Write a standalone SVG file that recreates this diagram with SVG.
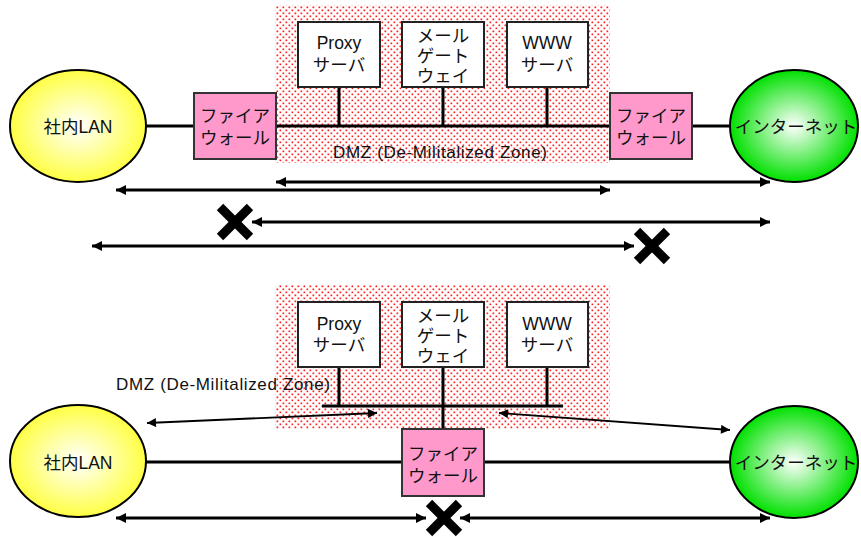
<svg xmlns="http://www.w3.org/2000/svg" width="861" height="537" viewBox="0 0 861 537">
<defs>
<pattern id="dots" width="6" height="6" patternUnits="userSpaceOnUse">
<rect x="0.5" y="0.5" width="1.7" height="1.7" fill="#FF2020"/>
<rect x="3.5" y="3.5" width="1.7" height="1.7" fill="#FF2020"/>
</pattern>
<radialGradient id="gy" cx="50%" cy="50%" r="50%">
<stop offset="0" stop-color="#FFFFFF"/>
<stop offset="1" stop-color="#FFFF44"/>
</radialGradient>
<radialGradient id="gg" cx="50%" cy="50%" r="50%">
<stop offset="0" stop-color="#FFFFFF"/>
<stop offset="1" stop-color="#00E000"/>
</radialGradient>
<marker id="ah" viewBox="0 0 10 10" refX="10" refY="5" markerWidth="10" markerHeight="10" markerUnits="userSpaceOnUse" orient="auto-start-reverse">
<path d="M0,0 L10,5 L0,10 Z" fill="#000"/>
</marker>
<marker id="ahs" viewBox="0 0 10 10" refX="10" refY="5" markerWidth="10" markerHeight="9" markerUnits="userSpaceOnUse" orient="auto-start-reverse">
<path d="M0,0 L10,5 L0,10 Z" fill="#000"/>
</marker>
</defs>
<style>
text{font-family:"Liberation Sans","Noto Sans CJK JP",sans-serif;fill:#111;}
.t{font-size:17.5px;text-anchor:middle;}
.d{font-size:17px;}
.box{fill:#FFFFFF;stroke:#222;stroke-width:2;}
.fw{fill:#FF99CC;stroke:#333;stroke-width:2;}
.ln{stroke:#000;stroke-width:3;fill:none;}
.ar{stroke:#000;stroke-width:3;fill:none;marker-start:url(#ah);marker-end:url(#ah);}
.thin{stroke:#000;stroke-width:1.8;fill:none;marker-start:url(#ahs);marker-end:url(#ahs);}
.x{stroke:#000;stroke-width:9;}
.dmz{fill:url(#dots);}
</style>

<rect class="dmz" x="275" y="5" width="335" height="158" rx="3"/>
<rect class="dmz" x="275" y="285" width="335" height="144" rx="3"/>

<g id="connectors">
<line class="ln" x1="146" y1="126" x2="194" y2="126"/>
<line class="ln" x1="276" y1="126" x2="610" y2="126"/>
<line class="ln" x1="692" y1="126" x2="730" y2="126"/>
<line class="ln" x1="339" y1="87" x2="339" y2="126"/>
<line class="ln" x1="443" y1="87" x2="443" y2="126"/>
<line class="ln" x1="547" y1="87" x2="547" y2="126"/>
<line class="ar" x1="276" y1="182" x2="770" y2="182"/>
<line class="ar" x1="116" y1="190" x2="610" y2="190"/>
<line class="ar" x1="252" y1="222" x2="770" y2="222"/>
<line class="ar" x1="92" y1="246" x2="634" y2="246"/>
<line class="ln" x1="322" y1="406" x2="563" y2="406"/>
<line class="ln" x1="339" y1="367" x2="339" y2="406"/>
<line class="ln" x1="547" y1="367" x2="547" y2="406"/>
<line class="ln" x1="443" y1="367" x2="443" y2="429"/>
<line class="ln" x1="146" y1="462" x2="402" y2="462"/>
<line class="ln" x1="484" y1="462" x2="730" y2="462"/>
<line class="thin" x1="147" y1="423" x2="377" y2="413"/>
<line class="thin" x1="499" y1="413" x2="730" y2="430"/>
<line class="ar" x1="116" y1="518" x2="426" y2="518"/>
<line class="ar" x1="460" y1="518" x2="770" y2="518"/>
<line class="x" x1="220" y1="207" x2="250" y2="237"/>
<line class="x" x1="250" y1="207" x2="220" y2="237"/>
<line class="x" x1="637" y1="231" x2="667" y2="261"/>
<line class="x" x1="667" y1="231" x2="637" y2="261"/>
<line class="x" x1="429" y1="503" x2="459" y2="533"/>
<line class="x" x1="459" y1="503" x2="429" y2="533"/>
</g>

<g id="lan-top">
<ellipse cx="78" cy="126" rx="68" ry="56" fill="url(#gy)" stroke="#000" stroke-width="2"/>
<text class="t" x="78" y="133">社内LAN</text>
</g>
<g id="fw-left-top">
<rect class="fw" x="194" y="93" width="82" height="66"/>
<text class="t" x="235" y="122">ファイア</text>
<text class="t" x="235" y="144">ウォール</text>
</g>
<g id="proxy-top">
<rect class="box" x="298" y="22" width="82" height="65"/>
<text class="t" x="339" y="49">Proxy</text>
<text class="t" x="339" y="71">サーバ</text>
</g>
<g id="mail-top">
<rect class="box" x="402" y="22" width="82" height="65"/>
<text class="t" x="443" y="42">メール</text>
<text class="t" x="443" y="62">ゲート</text>
<text class="t" x="443" y="82">ウェイ</text>
</g>
<g id="www-top">
<rect class="box" x="507" y="22" width="81" height="65"/>
<text class="t" x="547" y="49">WWW</text>
<text class="t" x="547" y="71">サーバ</text>
</g>
<g id="fw-right-top">
<rect class="fw" x="610" y="93" width="82" height="66"/>
<text class="t" x="651" y="122">ファイア</text>
<text class="t" x="651" y="144">ウォール</text>
</g>
<g id="internet-top">
<ellipse cx="794" cy="126" rx="64" ry="56" fill="url(#gg)" stroke="#000" stroke-width="2"/>
<text class="t" x="796" y="133">インターネット</text>
</g>
<g id="dmz-label-top">
<text class="d" x="333" y="158" textLength="214">DMZ (De-Militalized Zone)</text>
</g>

<g id="lan-bottom">
<ellipse cx="78" cy="461" rx="68" ry="56" fill="url(#gy)" stroke="#000" stroke-width="2"/>
<text class="t" x="78" y="469">社内LAN</text>
</g>
<g id="proxy-bottom">
<rect class="box" x="298" y="302" width="82" height="65"/>
<text class="t" x="339" y="330">Proxy</text>
<text class="t" x="339" y="351">サーバ</text>
</g>
<g id="mail-bottom">
<rect class="box" x="402" y="302" width="82" height="65"/>
<text class="t" x="443" y="322">メール</text>
<text class="t" x="443" y="342">ゲート</text>
<text class="t" x="443" y="362">ウェイ</text>
</g>
<g id="www-bottom">
<rect class="box" x="507" y="302" width="81" height="65"/>
<text class="t" x="547" y="330">WWW</text>
<text class="t" x="547" y="351">サーバ</text>
</g>
<g id="fw-bottom">
<rect class="fw" x="402" y="429" width="82" height="67"/>
<text class="t" x="443" y="460">ファイア</text>
<text class="t" x="443" y="482">ウォール</text>
</g>
<g id="internet-bottom">
<ellipse cx="794" cy="462" rx="64" ry="56" fill="url(#gg)" stroke="#000" stroke-width="2"/>
<text class="t" x="796" y="469">インターネット</text>
</g>
<g id="dmz-label-bottom">
<text class="d" x="116" y="390" textLength="214">DMZ (De-Militalized Zone)</text>
</g>
</svg>
